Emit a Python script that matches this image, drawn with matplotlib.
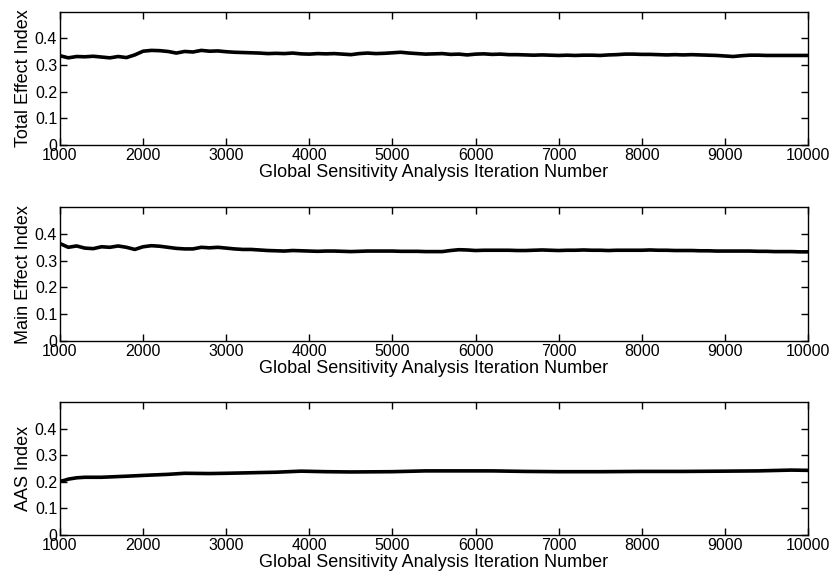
import numpy as np
import matplotlib.pyplot as plt

plt.rcParams['font.family'] = ['Liberation Sans', 'DejaVu Sans']

# iteration numbers (every 100) for the two noisy indices
iters = np.arange(1000, 10001, 100)

total_effect = [0.335, 0.327, 0.332, 0.331, 0.333, 0.330, 0.327, 0.332, 0.328, 0.338,
                0.352, 0.355, 0.354, 0.351, 0.345, 0.351, 0.349, 0.355, 0.352, 0.353,
                0.350, 0.348, 0.347, 0.346, 0.345, 0.343, 0.344, 0.343, 0.345, 0.342,
                0.341, 0.343, 0.342, 0.343, 0.341, 0.339, 0.343, 0.345, 0.343, 0.344,
                0.346, 0.348, 0.345, 0.343, 0.341, 0.342, 0.343, 0.340, 0.341, 0.338,
                0.341, 0.342, 0.340, 0.341, 0.339, 0.339, 0.338, 0.337, 0.338, 0.337,
                0.336, 0.337, 0.336, 0.337, 0.337, 0.336, 0.338, 0.339, 0.341, 0.341,
                0.340, 0.340, 0.339, 0.338, 0.339, 0.338, 0.339, 0.338, 0.337, 0.336,
                0.334, 0.332, 0.335, 0.337, 0.337, 0.336, 0.336, 0.336, 0.336, 0.336,
                0.336]

main_effect = [0.364, 0.350, 0.355, 0.347, 0.345, 0.352, 0.350, 0.355, 0.350, 0.342,
               0.352, 0.356, 0.354, 0.350, 0.346, 0.344, 0.344, 0.350, 0.348, 0.350,
               0.347, 0.344, 0.342, 0.342, 0.340, 0.338, 0.337, 0.336, 0.338, 0.337,
               0.336, 0.335, 0.336, 0.336, 0.335, 0.334, 0.335, 0.336, 0.336, 0.336,
               0.336, 0.335, 0.335, 0.335, 0.334, 0.334, 0.334, 0.338, 0.341, 0.340,
               0.338, 0.339, 0.339, 0.339, 0.339, 0.338, 0.338, 0.339, 0.340, 0.339,
               0.338, 0.339, 0.339, 0.340, 0.339, 0.339, 0.338, 0.339, 0.339, 0.339,
               0.339, 0.340, 0.339, 0.339, 0.338, 0.338, 0.338, 0.337, 0.337, 0.336,
               0.336, 0.336, 0.336, 0.336, 0.335, 0.335, 0.334, 0.334, 0.334, 0.333,
               0.333]

aas_iters = [1000, 1050, 1100, 1200, 1300, 1500, 1800, 2000, 2300, 2500, 2800, 3000,
             3300, 3600, 3900, 4200, 4500, 5000, 5400, 5800, 6200, 6600, 7000, 7500,
             8000, 8500, 9000, 9400, 9800, 10000]
aas_index = [0.202, 0.205, 0.210, 0.215, 0.217, 0.217, 0.221, 0.224, 0.228, 0.232,
             0.231, 0.232, 0.234, 0.236, 0.240, 0.238, 0.237, 0.238, 0.241, 0.241,
             0.241, 0.239, 0.238, 0.238, 0.239, 0.239, 0.240, 0.241, 0.244, 0.243]

ylabels = ['Total Effect Index', 'Main Effect Index', 'AAS Index']
xlab = 'Global Sensitivity Analysis Iteration Number'

fig = plt.figure(figsize=(8.33, 5.77), dpi=100)
boxes = [[0.072, 0.749, 0.898, 0.2305],
         [0.072, 0.409, 0.898, 0.232],
         [0.072, 0.0728, 0.898, 0.2305]]
series = [(iters, total_effect), (iters, main_effect), (aas_iters, aas_index)]

for box, (xs, ys), lab in zip(boxes, series, ylabels):
    ax = fig.add_axes(box)
    ax.plot(xs, ys, color='black', lw=2.6)
    ax.set_xlim(1000, 10000)
    ax.set_ylim(0, 0.5)
    ax.set_xticks(np.arange(1000, 10001, 1000))
    ax.set_yticks([0, 0.1, 0.2, 0.3, 0.4])
    ax.set_yticklabels(['0', '0.1', '0.2', '0.3', '0.4'])
    ax.tick_params(direction='in', top=True, right=True, length=5, width=1,
                   labelsize=11.5, pad=2)
    for s in ax.spines.values():
        s.set_linewidth(1)
    ax.set_ylabel(lab, fontsize=13, labelpad=2)
    ax.set_xlabel(xlab, fontsize=13, labelpad=1)

fig.savefig('out.png', dpi=100)
